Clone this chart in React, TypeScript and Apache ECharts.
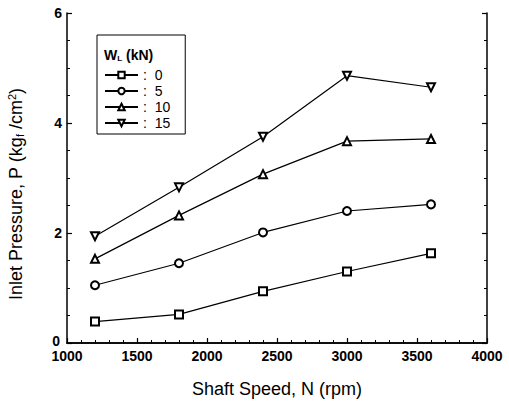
import React, { useEffect, useRef } from "react";
import * as echarts from "echarts";

const speeds = [1200, 1800, 2400, 3000, 3600];
const load0 = [0.39, 0.52, 0.94, 1.3, 1.63];
const load5 = [1.05, 1.45, 2.01, 2.4, 2.52];
const load10 = [1.53, 2.32, 3.07, 3.67, 3.71];
const load15 = [1.94, 2.83, 3.75, 4.86, 4.65];
const seriesNames = ["0", "5", "10", "15"];
const xTicks = [1000, 1500, 2000, 2500, 3000, 3500, 4000];
const yTicks = [0, 2, 4, 6];

const FONT = "Liberation Sans, Arial, sans-serif";

export default function App() {
  const ref = useRef<HTMLDivElement>(null);
  useEffect(() => {
    if (!ref.current) return;
    const chart = echarts.init(ref.current, null, { renderer: "svg" });
    const mk = (name: string, vals: number[], symbol: string, rotate = 0) => ({
      name,
      type: "line",
      data: speeds.map((s, i) => [s, vals[i]]),
      symbol,
      symbolSize: 8,
      symbolRotate: rotate,
      showAllSymbol: true,
      lineStyle: { color: "#000", width: 1.2 },
      itemStyle: { color: "#000", borderColor: "#000", borderWidth: 1.2 },
      emphasis: { disabled: true },
    });
    chart.setOption({
      animation: false,
      backgroundColor: "#fff",
      textStyle: { fontFamily: FONT, color: "#000" },
      grid: { left: 67, right: 22, top: 13, bottom: 61, containLabel: false },
      xAxis: [
        {
          type: "value",
          min: xTicks[0],
          max: xTicks[xTicks.length - 1],
          interval: 500,
          name: "Shaft Speed, N (rpm)",
          nameLocation: "middle",
          nameGap: 37,
          nameTextStyle: { fontSize: 18, color: "#000", fontFamily: FONT },
          axisLine: { lineStyle: { color: "#000", width: 1.5 } },
          axisTick: { inside: true, length: 5, lineStyle: { color: "#000", width: 1.2 } },
          minorTick: { show: true, splitNumber: 5, length: 3, lineStyle: { color: "#000", width: 1 } },
          axisLabel: {
            fontSize: 14,
            fontWeight: "bold",
            color: "#000",
            margin: 6,
            fontFamily: FONT,
            formatter: (v: number) => String(v),
          },
          splitLine: { show: false },
        },
        {
          type: "value",
          position: "top",
          min: xTicks[0],
          max: xTicks[xTicks.length - 1],
          interval: 500,
          axisLine: { lineStyle: { color: "#000", width: 1.5 } },
          axisTick: { show: false },
          axisLabel: { show: false },
          splitLine: { show: false },
        },
      ],
      yAxis: [
        {
          type: "value",
          min: yTicks[0],
          max: yTicks[yTicks.length - 1],
          interval: 2,
          axisLine: { show: true, lineStyle: { color: "#000", width: 1.5 } },
          axisTick: { show: true, inside: true, length: 5, lineStyle: { color: "#000", width: 1.2 } },
          minorTick: { show: true, splitNumber: 4, length: 3, lineStyle: { color: "#000", width: 1 } },
          axisLabel: {
            fontSize: 14,
            fontWeight: "bold",
            color: "#000",
            margin: 5,
            fontFamily: FONT,
            formatter: (v: number) => (v === 0 ? "{z|0}" : String(v)),
            rich: {
              z: { fontSize: 14, fontWeight: "bold", fontFamily: FONT, padding: [0, 2, 5, 0] },
            },
          },
          splitLine: { show: false },
        },
        {
          type: "value",
          position: "right",
          min: yTicks[0],
          max: yTicks[yTicks.length - 1],
          interval: 2,
          axisLine: { show: true, lineStyle: { color: "#000", width: 1.5 } },
          axisTick: { show: true, inside: true, length: 5, lineStyle: { color: "#000", width: 1.2 } },
          minorTick: { show: true, splitNumber: 4, length: 3, lineStyle: { color: "#000", width: 1 } },
          axisLabel: { show: false },
          splitLine: { show: false },
        },
      ],
      legend: {
        orient: "vertical",
        left: 97,
        top: 35,
        padding: [33, 15, 4, 7],
        borderColor: "#000",
        borderWidth: 1,
        itemWidth: 33,
        itemHeight: 8,
        itemGap: 2,
        selectedMode: false,
        textStyle: { fontSize: 14, color: "#000", fontFamily: FONT },
        formatter: (n: string) => ":  " + n,
        data: seriesNames,
      },
      graphic: [
        {
          type: "text",
          left: 104,
          top: 48,
          style: {
            text: "W{sub|L} (kN)",
            fontSize: 14,
            fontWeight: "bold",
            fontFamily: FONT,
            fill: "#000",
            rich: {
              sub: { fontSize: 8, fontWeight: "bold", fontFamily: FONT, padding: [6, 0, 0, 0], fill: "#000" },
            },
          },
        },
        {
          type: "text",
          x: 16,
          y: 194,
          rotation: Math.PI / 2,
          style: {
            text: "Inlet Pressure, P (kg{sub|f} /cm{sup|2})",
            fontSize: 18,
            fontFamily: FONT,
            fill: "#000",
            align: "center",
            verticalAlign: "middle",
            rich: {
              sub: { fontSize: 11, fontFamily: FONT, padding: [7, 0, 0, 0], fill: "#000" },
              sup: { fontSize: 11, fontFamily: FONT, padding: [0, 0, 8, 0], fill: "#000" },
            },
          },
        },
      ],
      series: [
        mk(seriesNames[0], load0, "emptyRect"),
        mk(seriesNames[1], load5, "emptyCircle"),
        mk(seriesNames[2], load10, "emptyTriangle"),
        mk(seriesNames[3], load15, "emptyTriangle", 180),
      ],
    });
    return () => chart.dispose();
  }, []);
  return (
    <div
      ref={ref}
      style={{ position: "absolute", left: 0, top: 0, width: 509, height: 404 }}
    />
  );
}
